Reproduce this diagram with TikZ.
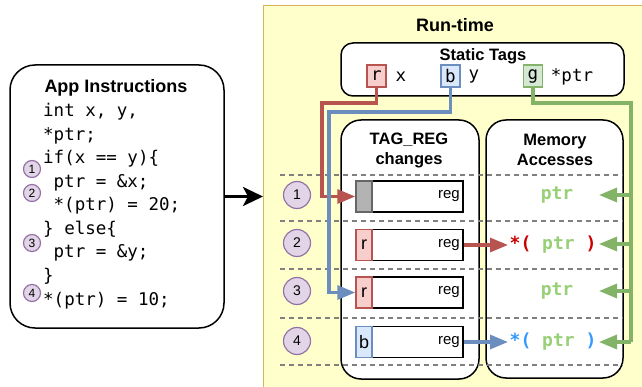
\documentclass[tikz,border=0pt]{standalone}
\usepackage{fontspec}
\setmainfont{Liberation Sans}
\setmonofont{DejaVu Sans Mono}
\usetikzlibrary{arrows.meta}
\definecolor{ybg}{HTML}{FFFFCC}
\definecolor{ystroke}{HTML}{D6B656}
\definecolor{rfill}{HTML}{F8CECC}
\definecolor{rline}{HTML}{B85450}
\definecolor{bfill}{HTML}{DAE8FC}
\definecolor{bline}{HTML}{6C8EBF}
\definecolor{gfill}{HTML}{D5E8D4}
\definecolor{gline}{HTML}{82B366}
\definecolor{pfill}{HTML}{E1D5E7}
\definecolor{pline}{HTML}{9673A6}
\definecolor{gtext}{HTML}{97D077}
\definecolor{rtext}{HTML}{CC0000}
\definecolor{btext}{HTML}{3399FF}
\definecolor{dashgray}{HTML}{808080}
\definecolor{cellgray}{HTML}{B3B3B3}
\definecolor{cellline}{HTML}{666666}
\begin{document}
\begin{tikzpicture}[x=1pt,y=-1pt,
  panel/.style={draw=black, line width=1.5pt, fill=white, rounded corners=20pt, inner sep=0pt},
  codeline/.style={anchor=base west, inner sep=0pt, font=\fontsize{17.5}{20}\ttfamily},
  title/.style={inner sep=0pt, font=\fontsize{18}{21}\bfseries},
  subtitle/.style={inner sep=0pt, align=center, font=\fontsize{16.5}{20}\bfseries},
  numL/.style={circle, draw=pline, fill=pfill, line width=1.2pt, minimum size=17pt, inner sep=0pt, font=\fontsize{12}{12}\selectfont},
  numR/.style={circle, draw=pline, fill=pfill, line width=1.2pt, minimum size=27pt, inner sep=0pt, font=\fontsize{14}{14}\selectfont},
  tagbox/.style={draw, line width=1.3pt, minimum width=19pt, minimum height=22pt, inner sep=0pt, font=\fontsize{17.5}{18}\ttfamily},
  tagtext/.style={inner sep=0pt, font=\fontsize{17.5}{18}\ttfamily},
  regbox/.style={draw=black, fill=white, line width=1.4pt, minimum width=107pt, minimum height=31pt, inner sep=0pt},
  regtag/.style={draw, line width=1.4pt, minimum width=16pt, minimum height=31pt, inner sep=0pt, font=\fontsize{18}{18}\selectfont},
  regtext/.style={anchor=east, inner sep=0pt, font=\fontsize{15}{16}\selectfont},
  memtext/.style={inner sep=0pt, font=\fontsize{18}{18}\ttfamily\bfseries},
  rowline/.style={dashgray, line width=1.4pt, dash pattern=on 5pt off 4pt},
  conn/.style={line width=3.2pt, -{Triangle[length=18pt,width=14pt]}}
]
\useasboundingbox (0,0) rectangle (642,387);
\fill[white] (0,0) rectangle (642,387);

% run-time background
\node[fill=ybg, draw=ystroke, line width=1.3pt, anchor=north west, minimum width=400pt, minimum height=400pt, inner sep=0pt] (rt) at (263,5) {};
\node[title] (rttitle) at (455,25) {Run-time};

% app instructions
\node[panel, rounded corners=25pt, minimum width=214pt, minimum height=263pt] (app) at (117,196.5) {};
\node[title] (apptitle) at (116,88) {App Instructions};
\node[codeline] (c1) at (43,117) {int x, y,};
\node[codeline] (c2) at (43,140.5) {*ptr;};
\node[codeline] (c3) at (43,164) {if(x == y)\{};
\node[codeline] (c4) at (53.5,187.5) {ptr = \&x;};
\node[codeline] (c5) at (53.5,211) {*(ptr) = 20;};
\node[codeline] (c6) at (43,234.5) {\} else\{};
\node[codeline] (c7) at (53.5,258) {ptr = \&y;};
\node[codeline] (c8) at (43,281.5) {\}};
\node[codeline] (c9) at (43,305) {*(ptr) = 10;};
\node[numL] (l1) at (32,169) {1};
\node[numL] (l2) at (32,193) {2};
\node[numL] (l3) at (32,243) {3};
\node[numL] (l4) at (32,293) {4};

\draw[line width=3pt, -{Stealth[length=20pt,width=19pt,inset=5pt]}] (app.east) -- (rt.west |- app.east);

% static tags
\node[panel, rounded corners=12pt, minimum width=283pt, minimum height=53pt] (st) at (482.5,69.5) {};
\node[subtitle] (sttitle) at (483,56) {Static Tags};
\node[tagbox, draw=rline, fill=rfill] (tr) at (376.5,76) {r};
\node[tagtext] (tx) at (401,77) {x};
\node[tagbox, draw=bline, fill=bfill] (tb) at (450.5,76) {b};
\node[tagtext] (ty) at (474,77) {y};
\node[tagbox, draw=gline, fill=gfill] (tg) at (533,76) {g};
\node[tagtext] (tp) at (572,77) {*ptr};

% columns
\node[panel, minimum width=138pt, minimum height=259pt] (treg) at (410,249.5) {};
\node[subtitle] (tregtitle) at (409,150) {TAG\_REG\\changes};
\node[panel, minimum width=137pt, minimum height=258pt] (mem) at (554.5,249) {};
\node[subtitle] (memtitle) at (555,150) {Memory\\Accesses};

% row separators
\foreach \yy in {175,221,269,318,365}
  \draw[rowline] (280,\yy) -- (623,\yy);

% row numbers
\node[numR] (n1) at (297,195) {1};
\node[numR] (n2) at (297,243) {2};
\node[numR] (n3) at (297,291) {3};
\node[numR] (n4) at (297,341) {4};

% register boxes
\node[regbox] (r1) at (409.5,196.5) {};
\node[regbox] (r2) at (409.5,245) {};
\node[regbox] (r3) at (409.5,292.5) {};
\node[regbox] (r4) at (409.5,342) {};
\node[regtag, draw=cellline, fill=cellgray] (t1) at (364,196.5) {};
\node[regtag, draw=rline, fill=rfill] (t2) at (364,245) {r};
\node[regtag, draw=rline, fill=rfill] (t3) at (364,292.5) {r};
\node[regtag, draw=bline, fill=bfill] (t4) at (364,342) {b};
\node[regtext] (g1) at (460,196.5) {reg};
\node[regtext] (g2) at (460,245) {reg};
\node[regtext] (g3) at (460,292.5) {reg};
\node[regtext] (g4) at (460,342) {reg};

% memory accesses
\node[memtext, text=gtext] (m1) at (557,195) {ptr};
\node[memtext, anchor=west, inner sep=1.5pt] (m2) at (508,245) {\textcolor{rtext}{*(} \textcolor{gtext}{ptr} \textcolor{rtext}{)}};
\node[memtext, text=gtext] (m3) at (557,291) {ptr};
\node[memtext, anchor=west, inner sep=1.5pt] (m4) at (508,342) {\textcolor{btext}{*(} \textcolor{gtext}{ptr} \textcolor{btext}{)}};

% connectors
\coordinate (rbend) at (322,103);
\coordinate (bbend) at (329,112);
\coordinate (gbend) at (631,103);
\coordinate (gend) at (631,342);
\coordinate (a1) at (599,195);
\coordinate (a2) at (599,244);
\coordinate (a3) at (599,291);
\coordinate (a4) at (599,342);

\draw[conn, rline] (tr.south) |- (rbend) |- (t1.west);
\draw[conn, bline] (tb.south) |- (bbend) |- (t3.west);
\draw[gline, line width=3.2pt] (tg.south) |- (gbend) -- (gend);
\draw[conn, gline] (gbend |- a1) -- (a1);
\draw[conn, gline] (gbend |- a2) -- (a2);
\draw[conn, gline] (gbend |- a3) -- (a3);
\draw[conn, gline] (gend) -- (a4);
\draw[conn, rline] (r2.east) -- (m2.west);
\draw[conn, bline] (r4.east) -- (m4.west);
\end{tikzpicture}
\end{document}
